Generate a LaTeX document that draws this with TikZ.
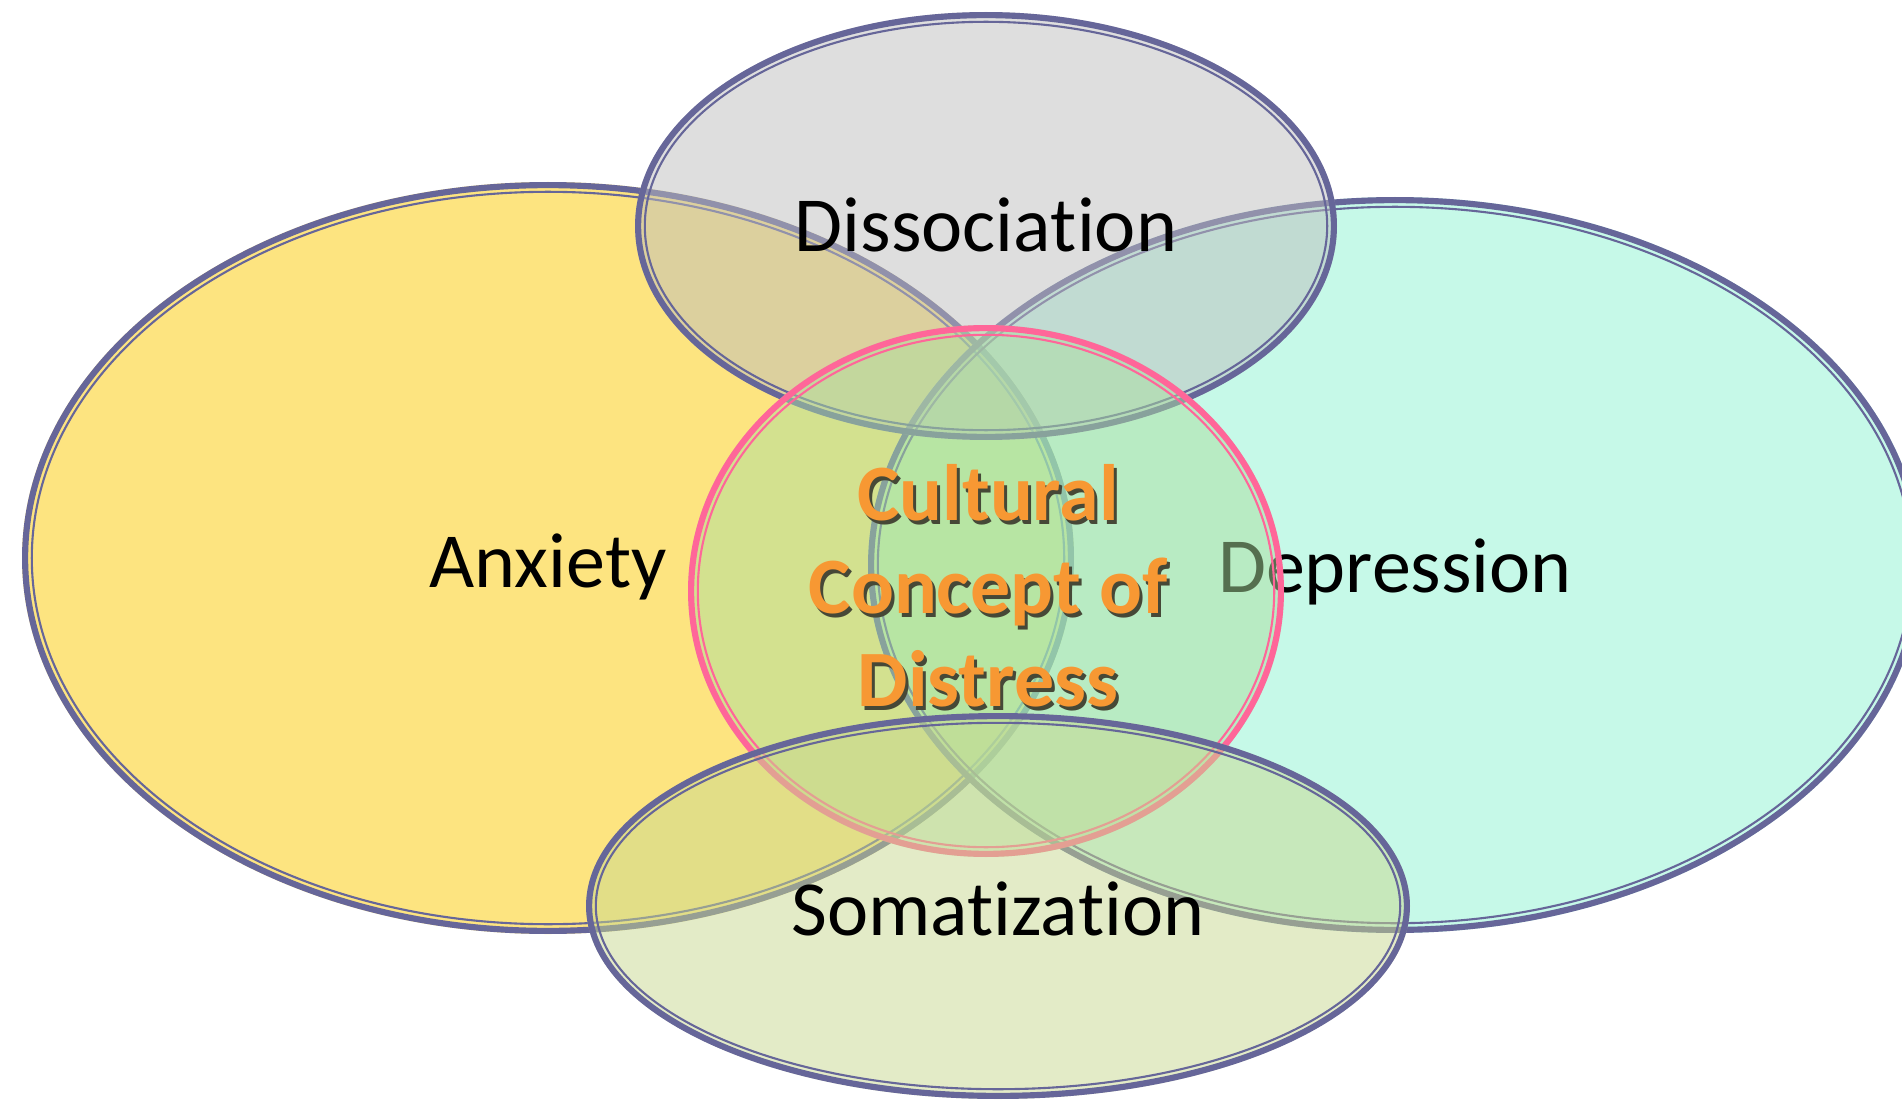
\documentclass[tikz,border=0pt]{standalone}
\usepackage{fontspec}
\setmainfont{Carlito}[Ligatures=NoCommon]
\definecolor{edgeblue}{RGB}{102,102,153}
\definecolor{edgepink}{RGB}{255,102,153}
\definecolor{anxfill}{RGB}{251,201,1}
\definecolor{depfill}{RGB}{141,243,209}
\definecolor{disfill}{RGB}{189,189,189}
\definecolor{ccdfill}{RGB}{171,222,159}
\definecolor{somfill}{RGB}{200,216,143}
\definecolor{ccdtext}{RGB}{247,152,51}
\definecolor{ccdshade}{RGB}{70,72,55}
\newcommand{\vennshape}[6]{%
  \pgfmathsetmacro\vxa{#3-3.1}\pgfmathsetmacro\vya{#4-3.1}%
  \pgfmathsetmacro\vxb{#3-9.8}\pgfmathsetmacro\vyb{#4-9.8}%
  \fill[#5,fill opacity=0.5] (#1,#2) ellipse [x radius=#3, y radius=#4];
  \draw[#6,line width=3.5pt] (#1,#2) ellipse [x radius=\vxa, y radius=\vya];
  \draw[#6,line width=1.2pt] (#1,#2) ellipse [x radius=\vxb, y radius=\vyb];}
\newcommand{\ccdlines}{\begin{tabular}{@{}c@{}}Cultural\\Concept of\\Distress\end{tabular}}
\tikzset{
  lbl/.style={font=\fontsize{44.4pt}{53pt}\selectfont, text=black, inner sep=0pt, anchor=base},
  ccdlbl/.style={font=\fontsize{45.5pt}{52.9pt}\selectfont\bfseries, inner sep=0pt, anchor=center}
}
\begin{document}
\begin{tikzpicture}[x=0.02cm,y=-0.02cm]
\useasboundingbox (0,0) rectangle (1902,1101);
\clip (0,0) rectangle (1902,1101);
% Anxiety
\vennshape{548}{558}{526}{376}{anxfill}{edgeblue}
\node[lbl] (anx) at (548,587) {Anxiety};
% Depression
\vennshape{1395}{565}{527}{368}{depfill}{edgeblue}
\node[lbl] (dep) at (1395,592) {Depression};
% Dissociation
\vennshape{986}{226}{351}{214}{disfill}{edgeblue}
\node[lbl] (dis) at (986,252) {Dissocia\kern0pt tion};
% Cultural concept of distress
\vennshape{986}{591}{298}{266}{ccdfill}{edgepink}
\node[ccdlbl] (ccd) at (988,597) {\rlap{\hspace{1.7pt}\raisebox{-2pt}{\color{ccdshade}\ccdlines}}\color{ccdtext}\ccdlines};
% Somatization
\vennshape{998}{906}{412}{193}{somfill}{edgeblue}
\node[lbl] (som) at (998,935) {Somatiza\kern0pt tion};
\end{tikzpicture}
\end{document}
